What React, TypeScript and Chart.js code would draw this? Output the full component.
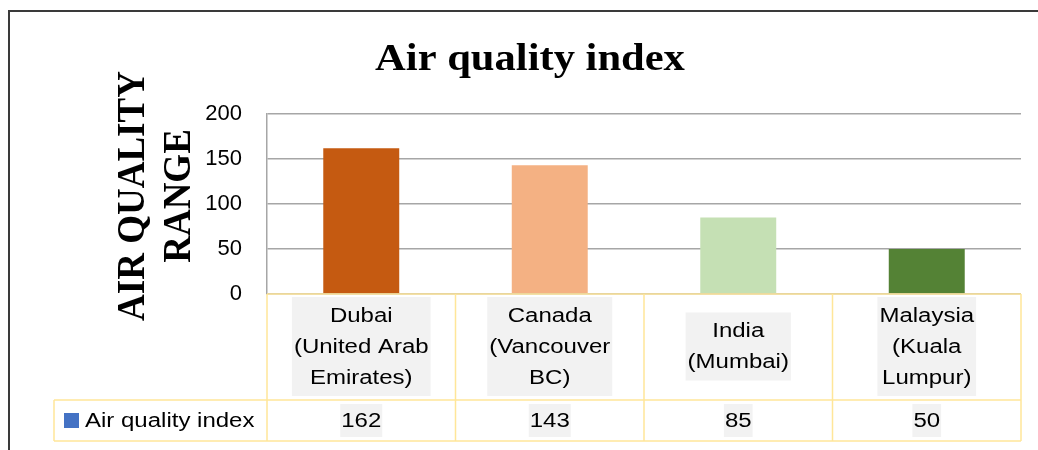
import React, { useEffect, useRef } from "react";
import { Chart, registerables } from "chart.js";

Chart.register(...registerables);

const chartTitle = "Air quality index";
const yTitleLines = ["AIR QUALITY", "RANGE"];
const seriesName = "Air quality index";
const categories: string[][] = [
  ["Dubai", "(United Arab", "Emirates)"],
  ["Canada", "(Vancouver", "BC)"],
  ["India", "(Mumbai)"],
  ["Malaysia", "(Kuala", "Lumpur)"],
];
const values = [162, 143, 85, 50];
const barColors = ["#C55A11", "#F4B183", "#C5E0B4", "#548235"];
const legendColor = "#4472C4";
const yMin = 0;
const yMax = 200;
const yStep = 50;

const SANS = '"Liberation Sans", Arial, sans-serif';
const SERIF = '"Liberation Serif", "Times New Roman", serif';
const STRETCH = 1.2;

function stretchedText(ctx: CanvasRenderingContext2D, text: string, x: number, y: number, sx: number) {
  ctx.save();
  ctx.translate(x, y);
  ctx.scale(sx, 1);
  ctx.fillText(text, 0, 0);
  ctx.restore();
}

const decorPlugin = {
  id: "decor",
  afterDraw(chart: any) {
    const ctx: CanvasRenderingContext2D = chart.ctx;
    const area = chart.chartArea;
    const xs = chart.scales.x;
    const n = categories.length;
    const colW = (area.right - area.left) / n;
    ctx.save();

    // outer border
    ctx.strokeStyle = "#3a3a3a";
    ctx.lineWidth = 2;
    ctx.beginPath();
    ctx.moveTo(9, 460);
    ctx.lineTo(9, 11);
    ctx.lineTo(1040, 11);
    ctx.stroke();

    // title
    ctx.fillStyle = "#000";
    ctx.font = `bold 38px ${SERIF}`;
    ctx.textAlign = "center";
    ctx.textBaseline = "alphabetic";
    stretchedText(ctx, chartTitle, 530, 70, 1.12);

    // y title
    ctx.font = `bold 37px ${SERIF}`;
    const yCenter = 196;
    const baseXs = [144, 190];
    yTitleLines.forEach((line, i) => {
      ctx.save();
      ctx.translate(baseXs[i], yCenter);
      ctx.rotate(-Math.PI / 2);
      ctx.scale(1, 1.1);
      ctx.textAlign = "center";
      ctx.textBaseline = "alphabetic";
      ctx.fillText(line, 0, 0);
      ctx.restore();
    });

    // table
    const top = area.bottom;
    const rowDiv = 400;
    const bottom = 441;
    const legendLeft = 54;
    ctx.strokeStyle = "#FFE699";
    ctx.lineWidth = 1.5;
    ctx.beginPath();
    ctx.moveTo(area.left, top);
    ctx.lineTo(area.right, top);
    ctx.moveTo(legendLeft, rowDiv);
    ctx.lineTo(area.right, rowDiv);
    ctx.moveTo(legendLeft, bottom);
    ctx.lineTo(area.right, bottom);
    ctx.moveTo(legendLeft, rowDiv);
    ctx.lineTo(legendLeft, bottom);
    for (let i = 0; i <= n; i++) {
      const x = area.left + i * colW;
      ctx.moveTo(x, top);
      ctx.lineTo(x, bottom);
    }
    ctx.stroke();

    ctx.font = `20px ${SANS}`;
    ctx.textAlign = "center";
    ctx.textBaseline = "middle";
    const lineH = 31;
    const catMid = (top + rowDiv) / 2;
    categories.forEach((lines, i) => {
      const cx = xs.getPixelForValue(i);
      const h = (lines.length - 1) * lineH;
      const firstY = catMid - h / 2;
      let maxW = 0;
      lines.forEach((l) => {
        maxW = Math.max(maxW, ctx.measureText(l).width * STRETCH);
      });
      ctx.fillStyle = "#F2F2F2";
      ctx.fillRect(cx - maxW / 2 - 2, firstY - 19, maxW + 4, h + 37);
      ctx.fillStyle = "#000";
      lines.forEach((l, j) => stretchedText(ctx, l, cx, firstY + j * lineH, STRETCH));
    });

    const valMid = (rowDiv + bottom) / 2 + 0.5;
    values.forEach((v, i) => {
      const cx = xs.getPixelForValue(i);
      const t = String(v);
      const w = ctx.measureText(t).width * STRETCH;
      ctx.fillStyle = "#F2F2F2";
      ctx.fillRect(cx - w / 2 - 1, valMid - 17, w + 2, 33);
      ctx.fillStyle = "#000";
      stretchedText(ctx, t, cx, valMid, STRETCH);
    });

    // legend key
    ctx.fillStyle = legendColor;
    ctx.fillRect(64, 413, 15, 15);
    ctx.fillStyle = "#000";
    ctx.textAlign = "left";
    stretchedText(ctx, seriesName, 85, valMid, STRETCH);

    ctx.restore();
  },
};

export default function App() {
  const ref = useRef<HTMLCanvasElement | null>(null);
  useEffect(() => {
    if (!ref.current) return;
    const chart = new Chart(ref.current, {
      type: "bar",
      data: {
        labels: categories.map((c) => c.join(" ")),
        datasets: [
          {
            label: seriesName,
            data: values,
            backgroundColor: barColors,
            borderWidth: 0,
            categoryPercentage: 1,
            barPercentage: 0.403,
          },
        ],
      },
      options: {
        responsive: false,
        animation: false,
        layout: { padding: { top: 114, right: 17, bottom: 156, left: 0 } },
        plugins: {
          legend: { display: false },
          title: { display: false },
          tooltip: { enabled: false },
        },
        scales: {
          x: { display: false },
          y: {
            min: yMin,
            max: yMax,
            afterFit: (s: any) => {
              s.width = 267;
            },
            ticks: {
              stepSize: yStep,
              color: "#000",
              padding: 25,
              font: { family: SANS, size: 22 },
            },
            grid: { color: "#A6A6A6", lineWidth: 1.5, drawTicks: false },
            border: { color: "#A6A6A6", width: 1.5 },
          },
        },
      },
      plugins: [decorPlugin],
    });
    return () => chart.destroy();
  }, []);
  return (
    <div style={{ position: "absolute", left: 0, top: 0, width: 1038, height: 450, background: "#fff" }}>
      <canvas ref={ref} width={1038} height={450} style={{ display: "block" }} />
    </div>
  );
}
